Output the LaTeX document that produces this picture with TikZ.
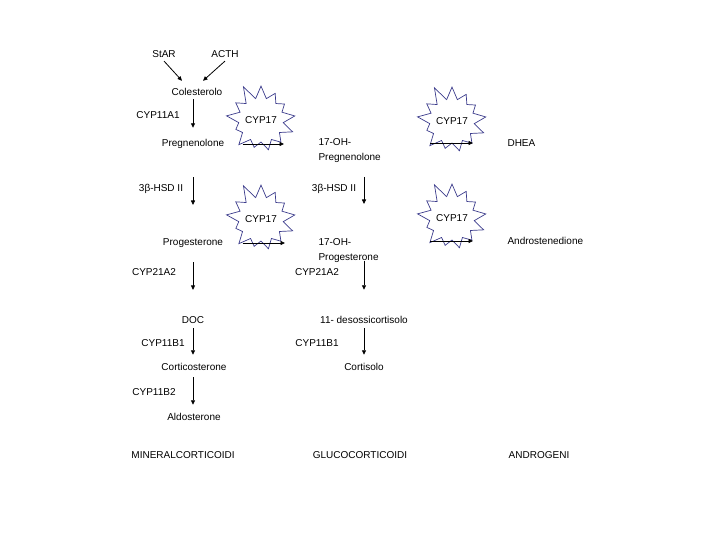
\documentclass[tikz,border=0pt]{standalone}
\usepackage{fontspec}
\setmainfont{Liberation Sans}
\usetikzlibrary{calc,arrows.meta,shapes.symbols}
\definecolor{starblue}{HTML}{3C3C8C}

\begin{document}
\begin{tikzpicture}[x=1pt,y=-1pt, every node/.style={font=\fontsize{10}{15}\selectfont},
  arr/.style={-{Triangle[length=4.5pt,width=4pt]},line width=0.8pt},
  cypstar/.style={starburst,starburst points=13,starburst point height=16pt,random starburst=11,draw=starblue,fill=white,line width=0.7pt,minimum width=58pt,minimum height=76pt,inner sep=0pt}]
\useasboundingbox (0,0) rectangle (720,540);
% substrates
\node (stAR) at (164,54) {StAR};
\node (acth) at (225,54) {ACTH};
\node (col) at (197,92) {Colesterolo};
\node (preg) at (193,144) {Pregnenolone};
\node[anchor=west,align=left] (ohpreg) at (315,151) {17-OH-\\Pregnenolone};
\node[anchor=west] (dhea) at (504,143) {DHEA};
\node (prog) at (193,243) {Progesterone};
\node[anchor=west,align=left] (ohprog) at (315,251) {17-OH-\\Progesterone};
\node[anchor=west] (andro) at (504,241) {Androstenedione};
\node (doc) at (193,320) {DOC};
\node (desoss) at (364,320) {11- desossicortisolo};
\node (corticost) at (194,367) {Corticosterone};
\node (cortisolo) at (364,367) {Cortisolo};
\node (aldo) at (194,417) {Aldosterone};
% enzymes
\node (cyp11a1) at (158,115) {CYP11A1};
\node (hsdl) at (161,189) {3β-HSD II};
\node (hsdr) at (334,189) {3β-HSD II};
\node (cyp21l) at (154,272) {CYP21A2};
\node (cyp21r) at (317,272) {CYP21A2};
\node (cyp11b1l) at (163,343) {CYP11B1};
\node (cyp11b1r) at (317,343) {CYP11B1};
\node (cyp11b2) at (154,392) {CYP11B2};
\node[cypstar] (cypa) at (261,120) {CYP17};
\node[cypstar] (cypb) at (452,121) {CYP17};
\node[cypstar] (cypc) at (261,219) {CYP17};
\node[cypstar] (cypd) at (452,218) {CYP17};
% classes
\node (mineral) at (183,455) {MINERALCORTICOIDI};
\node (gluco) at (360,455) {GLUCOCORTICOIDI};
\node (andr) at (539,455) {ANDROGENI};
% arrows
\draw[arr] (stAR.south) -- ([shift={(-15pt,4pt)}]col.north);
\draw[arr] (acth.south) -- ([shift={(6pt,4pt)}]col.north);
\draw[arr,shorten >=8pt] (col.south -| preg) -- (preg);
\draw[arr,shorten <=25pt,shorten >=30pt] (preg) -- (prog);
\draw[arr,shorten <=11pt,shorten >=23pt] (prog) -- (doc);
\draw[arr,shorten <=1pt,shorten >=5pt] (doc) -- (corticost.north -| doc);
\draw[arr,shorten <=3pt,shorten >=5pt] (corticost.south -| doc) -- (aldo.north -| doc);
\draw[arr,shorten <=26pt,shorten >=47pt] (ohpreg.center -| desoss) -- (ohprog.center -| desoss);
\draw[arr,shorten <=10pt,shorten >=23pt] (ohprog.center -| desoss) -- (desoss);
\draw[arr,shorten <=1pt,shorten >=5pt] (desoss) -- (cortisolo);
\draw[arr,shorten <=15pt,shorten >=31pt] (preg) -- (preg -| ohpreg.west);
\draw[arr,shorten <=46pt,shorten >=31pt] (ohpreg.east |- dhea) -- (dhea);
\draw[arr,shorten <=16pt,shorten >=30pt] (prog) -- (prog -| ohprog.west);
\draw[arr,shorten <=48pt,shorten >=31pt] (ohprog.east |- andro) -- (andro);
\end{tikzpicture}
\end{document}
